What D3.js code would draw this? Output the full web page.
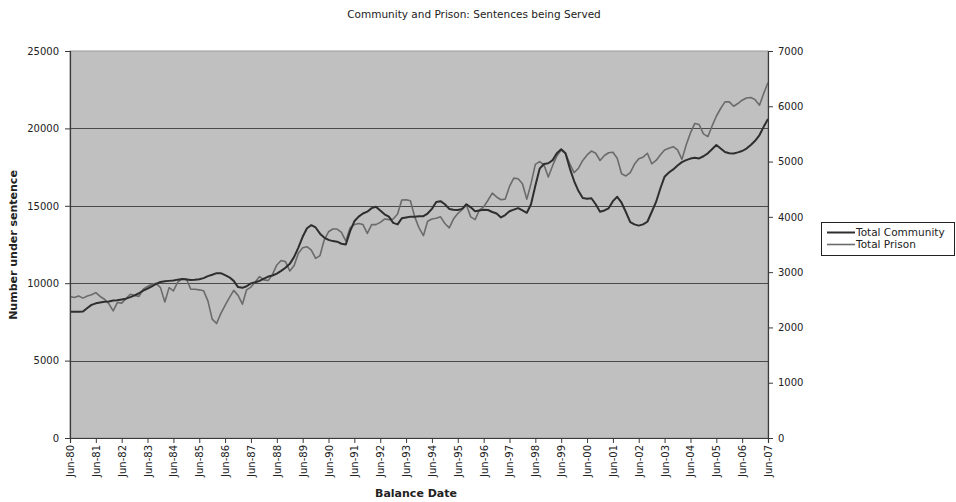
<!DOCTYPE html>
<html>
<head>
<meta charset="utf-8">
<script src="https://cdn.jsdelivr.net/npm/d3@7"></script>
<style>
  html, body { margin: 0; padding: 0; background: #ffffff; }
  svg { display: block; font-family: "DejaVu Sans", Verdana, sans-serif; }
</style>
</head>
<body>
<svg id="chart" width="956" height="502"></svg>
<script>
// Series sampled every two months, starting June 1980
const startYear = 1980;
const startMonth = 5; // June (0-based)
const stepMonths = 2;

// Total community sentences (left axis)
const totalCommunity = [
  8150, 8150, 8150, 8170, 8400, 8600, 8700, 8750, 8800, 8820, 8880, 8900,
  8950, 9000, 9100, 9215, 9350, 9520, 9650, 9800, 9950, 10080, 10120, 10150,
  10180, 10230, 10270, 10240, 10200, 10220, 10250, 10330, 10460, 10550, 10650, 10650,
  10520, 10380, 10150, 9750, 9700, 9800, 9990, 10060, 10150, 10300, 10430, 10500,
  10620, 10800, 11000, 11250, 11700, 12300, 13000, 13550, 13750, 13600, 13200, 12950,
  12800, 12720, 12680, 12550, 12500, 13350, 14000, 14300, 14500, 14620, 14850, 14940,
  14700, 14450, 14300, 13900, 13800, 14190, 14250, 14300, 14300, 14320, 14330, 14500,
  14800, 15250, 15300, 15100, 14800, 14750, 14730, 14800, 15100, 14900, 14650, 14700,
  14750, 14730, 14600, 14500, 14250, 14400, 14650, 14750, 14850, 14700, 14550, 15100,
  16300, 17400, 17700, 17750, 17950, 18400, 18650, 18400, 17420, 16600, 15950, 15500,
  15450, 15490, 15100, 14620, 14700, 14840, 15300, 15580, 15200, 14600, 13950, 13800,
  13720, 13800, 13970, 14600, 15250, 16100, 16880, 17150, 17350, 17600, 17820, 17950,
  18050, 18100, 18060, 18200, 18390, 18650, 18930, 18700, 18480, 18400, 18380, 18450,
  18540, 18700, 18930, 19200, 19570, 20100, 20600
];

// Total prison sentences (right axis)
const totalPrison = [
  2560, 2540, 2570, 2530, 2570, 2590, 2630, 2560, 2510, 2430, 2300, 2450,
  2440, 2520, 2600, 2580, 2560, 2690, 2740, 2780, 2798, 2720, 2460, 2720,
  2660, 2820, 2880, 2880, 2690, 2690, 2680, 2665, 2480, 2150, 2070, 2250,
  2400, 2540, 2670, 2580, 2420, 2680, 2730, 2820, 2920, 2860, 2850, 2960,
  3130, 3210, 3190, 3020, 3120, 3340, 3440, 3460, 3400, 3250, 3300, 3580,
  3730, 3780, 3780, 3720, 3560, 3800, 3860, 3880, 3860, 3700, 3860, 3860,
  3900, 3960, 3950, 3960, 4050, 4305, 4310, 4290, 4000, 3800, 3660, 3920,
  3960, 3975, 4000, 3880, 3800, 3960, 4060, 4130, 4215, 4000, 3950, 4120,
  4180, 4300, 4430, 4360, 4310, 4320, 4550, 4700, 4690, 4600, 4320, 4600,
  4950, 5000, 4940, 4720, 4930, 5100, 5210, 5150, 4960, 4800, 4880, 5020,
  5120, 5190, 5150, 5020, 5110, 5160, 5170, 5060, 4780, 4740, 4800, 4950,
  5050, 5080, 5150, 4960, 5020, 5120, 5210, 5240, 5270, 5210, 5040, 5300,
  5520, 5690, 5670, 5500, 5450, 5640, 5820, 5960, 6080, 6080, 6000, 6050,
  6110, 6150, 6160, 6120, 6020, 6230, 6430
];

const leftTicks = [0, 5000, 10000, 15000, 20000, 25000];
const rightTicks = [0, 1000, 2000, 3000, 4000, 5000, 6000, 7000];
const tickYears = d3.range(1980, 2008);
const seriesNames = ["Total Community", "Total Prison"];

const titleText = "Community and Prison: Sentences being Served";
const leftAxisTitle = "Number under sentence";
const bottomAxisTitle = "Balance Date";

// ---- layout ----
const plot = { left: 70, right: 768, top: 51, bottom: 438 };
const colors = { community: "#2e2e2e", prison: "#6b6b6b", plotBg: "#c0c0c0", grid: "#4a4a4a", axis: "#3a3a3a", text: "#222" };

const svg = d3.select("#chart");

const dateAt = i => new Date(startYear, startMonth + i * stepMonths, 1);

const x = d3.scaleTime()
  .domain([new Date(1980, 5, 1), new Date(2007, 5, 1)])
  .range([plot.left, plot.right]);
const yLeft = d3.scaleLinear().domain([0, 25000]).range([plot.bottom, plot.top]);
const yRight = d3.scaleLinear().domain([0, 7000]).range([plot.bottom, plot.top]);

// plot background
svg.append("rect")
  .attr("x", plot.left).attr("y", plot.top)
  .attr("width", plot.right - plot.left).attr("height", plot.bottom - plot.top)
  .attr("fill", colors.plotBg)
  .attr("stroke", "#9a9a9a").attr("stroke-width", 1);

// horizontal gridlines
svg.append("g")
  .selectAll("line")
  .data(leftTicks.filter(v => v > 0 && v < 25000))
  .join("line")
  .attr("x1", plot.left).attr("x2", plot.right)
  .attr("y1", d => Math.round(yLeft(d)) + 0.5).attr("y2", d => Math.round(yLeft(d)) + 0.5)
  .attr("stroke", colors.grid).attr("stroke-width", 1.2);

// lines
const communityLine = d3.line()
  .x((d, i) => x(dateAt(i)))
  .y(d => yLeft(d));
const prisonLine = d3.line()
  .x((d, i) => x(dateAt(i)))
  .y(d => yRight(d));

svg.append("path")
  .datum(totalPrison)
  .attr("d", prisonLine)
  .attr("fill", "none")
  .attr("stroke", colors.prison)
  .attr("stroke-width", 1.6)
  .attr("stroke-linejoin", "round");

svg.append("path")
  .datum(totalCommunity)
  .attr("d", communityLine)
  .attr("fill", "none")
  .attr("stroke", colors.community)
  .attr("stroke-width", 2)
  .attr("stroke-linejoin", "round");

// axes
const fontSize = "10px";

const leftAxis = svg.append("g")
  .attr("transform", `translate(${plot.left},0)`)
  .call(d3.axisLeft(yLeft).tickValues(leftTicks).tickSize(5).tickPadding(6).tickFormat(d3.format("d")));
const rightAxis = svg.append("g")
  .attr("transform", `translate(${plot.right},0)`)
  .call(d3.axisRight(yRight).tickValues(rightTicks).tickSize(5).tickPadding(5).tickFormat(d3.format("d")));
const bottomAxis = svg.append("g")
  .attr("transform", `translate(0,${plot.bottom})`)
  .call(d3.axisBottom(x).tickValues(tickYears.map(y => new Date(y, 5, 1))).tickSize(5).tickFormat(d3.timeFormat("%b-%y")));

[leftAxis, rightAxis, bottomAxis].forEach(g => {
  g.select(".domain").attr("stroke", colors.axis).attr("stroke-width", 1.2);
  g.selectAll(".tick line").attr("stroke", colors.axis);
  g.selectAll("text").attr("fill", colors.text).style("font-size", fontSize)
    .style("font-family", "'DejaVu Sans', Verdana, sans-serif");
});

bottomAxis.selectAll("text")
  .attr("transform", "rotate(-90)")
  .attr("text-anchor", "end")
  .attr("x", -7)
  .attr("y", 0)
  .attr("dy", "0.35em");

// titles
svg.append("text")
  .attr("x", 474).attr("y", 18)
  .attr("text-anchor", "middle")
  .attr("fill", colors.text)
  .style("font-size", "10.5px")
  .text(titleText);

svg.append("text")
  .attr("transform", "translate(17,245) rotate(-90)")
  .attr("text-anchor", "middle")
  .attr("fill", colors.text)
  .style("font-size", "11px")
  .style("font-weight", "bold")
  .text(leftAxisTitle);

svg.append("text")
  .attr("x", 416).attr("y", 497)
  .attr("text-anchor", "middle")
  .attr("fill", colors.text)
  .style("font-size", "11px")
  .style("font-weight", "bold")
  .text(bottomAxisTitle);

// legend
const legend = svg.append("g").attr("transform", "translate(821,222)");
legend.append("rect")
  .attr("x", 0.5).attr("y", 0.5).attr("width", 133).attr("height", 33)
  .attr("fill", "#ffffff").attr("stroke", "#222").attr("stroke-width", 1);
const legendColors = [colors.community, colors.prison];
const legendWidths = [2, 1.6];
seriesNames.forEach((name, i) => {
  const yy = 10.5 + i * 12;
  legend.append("line")
    .attr("x1", 6).attr("x2", 34).attr("y1", yy).attr("y2", yy)
    .attr("stroke", legendColors[i]).attr("stroke-width", legendWidths[i]);
  legend.append("text")
    .attr("x", 35).attr("y", yy).attr("dy", "0.35em")
    .attr("fill", colors.text)
    .style("font-size", "10.5px")
    .text(name);
});
</script>
</body>
</html>
